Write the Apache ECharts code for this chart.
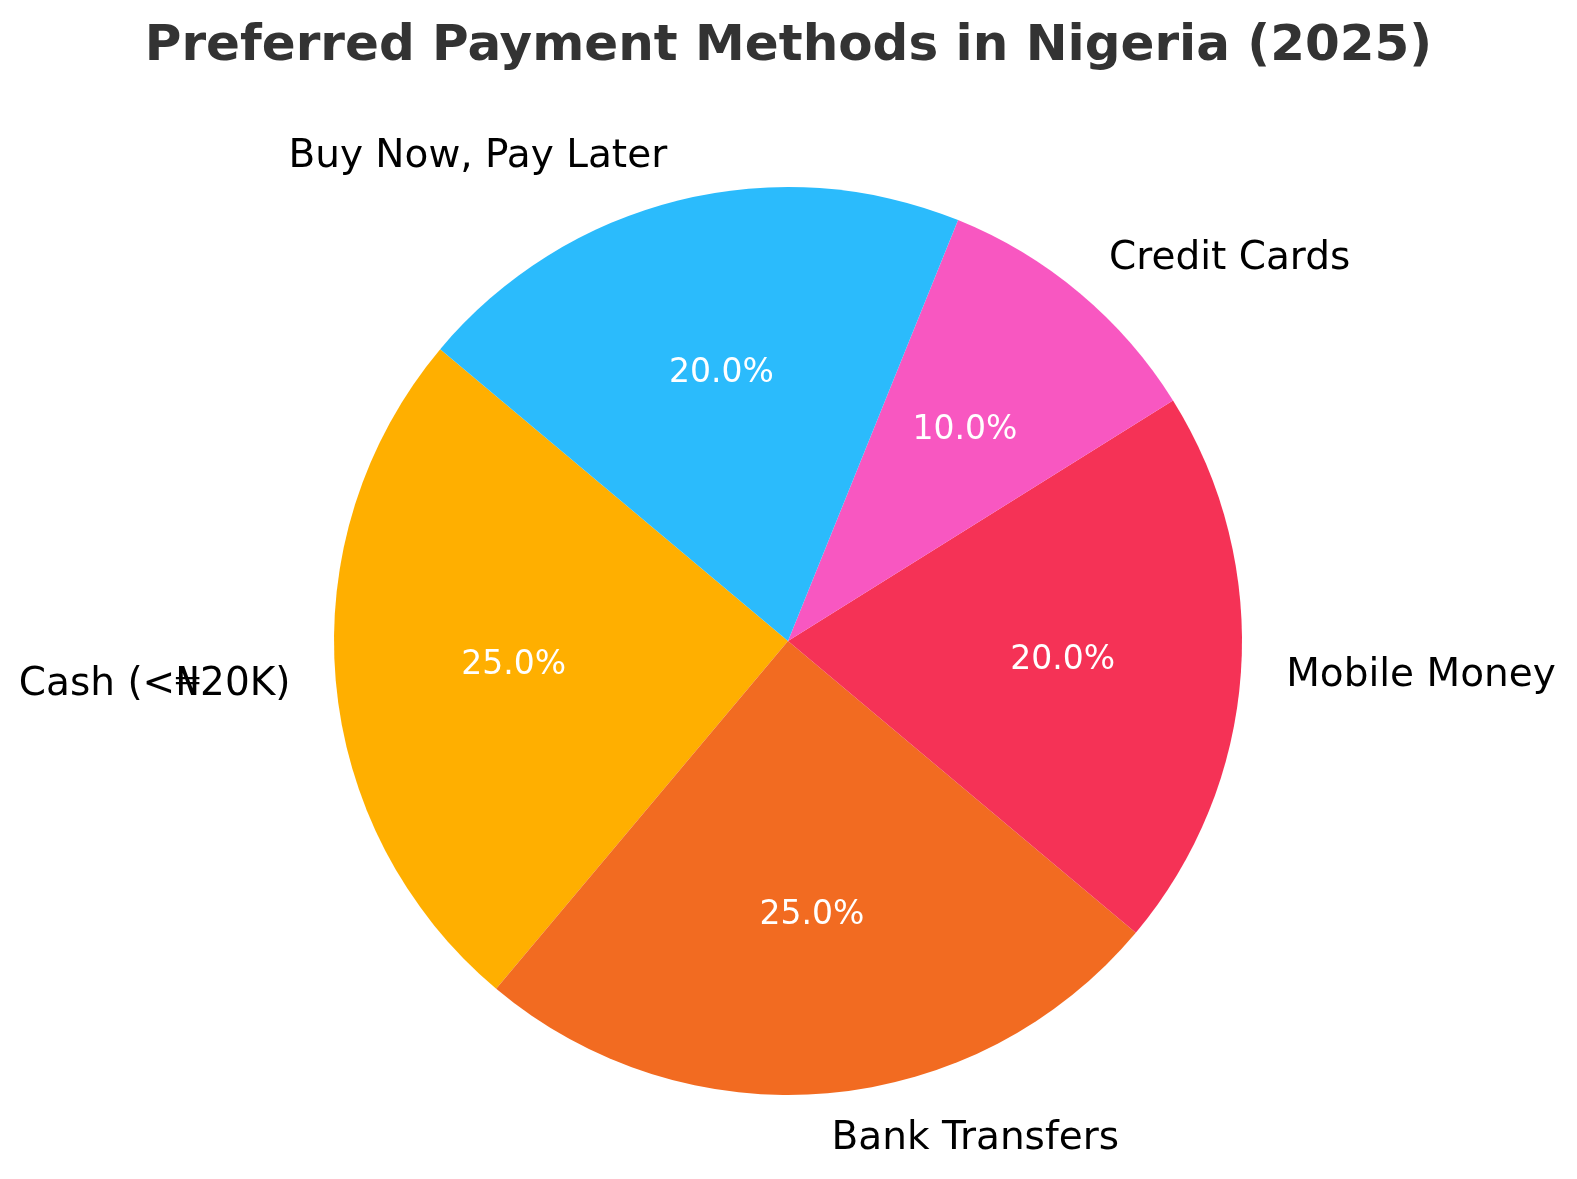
<!DOCTYPE html>
<html>
<head>
<meta charset="utf-8">
<title>Preferred Payment Methods in Nigeria (2025)</title>
<script src="https://cdn.jsdelivr.net/npm/echarts@6/dist/echarts.min.js"></script>
<style>
	html, body { margin: 0; padding: 0; background: #fff; }
	#chart { width: 1577px; height: 1179px; }
</style>
</head>
<body>
<div id="chart"></div>
<script>
// data
var methods = ['Cash (<\u20A620K)', 'Bank Transfers', 'Mobile Money', 'Credit Cards', 'Buy Now, Pay Later'];
var shares = [25, 25, 20, 10, 20];
var palette = ['#FFAF00', '#F26B21', '#F53256', '#F857C1', '#2BBBFC'];

var cx = 788, cy = 641, R = 454;

function buildData(colored) {
	var out = [];
	for (var i = 0; i < methods.length; i++) {
		out.push({
			name: methods[i],
			value: shares[i],
			itemStyle: { color: colored ? palette[i] : 'rgba(0,0,0,0)' }
		});
	}
	return out;
}

var mychart = echarts.init(document.getElementById('chart'), null, { renderer: 'canvas' });

mychart.setOption({
	backgroundColor: '#ffffff',
	animation: false,
	textStyle: { fontFamily: 'DejaVu Sans' },
	title: {
		text: 'Preferred Payment Methods in Nigeria (2025)',
		left: 'center',
		top: 17,
		textStyle: {
			fontFamily: 'DejaVu Sans',
			fontSize: 50,
			fontWeight: 'bold',
			color: '#333333',
			lineHeight: 50
		}
	},
	series: [
		{
			// slices with outer labels
			type: 'pie',
			center: [cx, cy],
			radius: [0, R],
			startAngle: 140,
			clockwise: false,
			avoidLabelOverlap: false,
			silent: true,
			data: buildData(true),
			itemStyle: { borderWidth: 0 },
			label: {
				show: true,
				position: 'outside',
				fontFamily: 'DejaVu Sans',
				fontSize: 39,
				color: '#000000',
				distanceToLabelLine: 0,
				formatter: '{b}'
			},
			labelLine: { show: false, length: R * 0.1, length2: 0 }
		},
		{
			// percentage labels at 0.6 R
			type: 'pie',
			center: [cx, cy],
			radius: [R * 0.2, R],
			startAngle: 140,
			clockwise: false,
			avoidLabelOverlap: false,
			silent: true,
			data: buildData(false),
			label: {
				show: true,
				position: 'inside',
				fontFamily: 'DejaVu Sans',
				fontSize: 33,
				color: '#ffffff',
				formatter: function (p) { return p.percent.toFixed(1) + '%'; }
			},
			labelLine: { show: false }
		}
	]
});
</script>
</body>
</html>
